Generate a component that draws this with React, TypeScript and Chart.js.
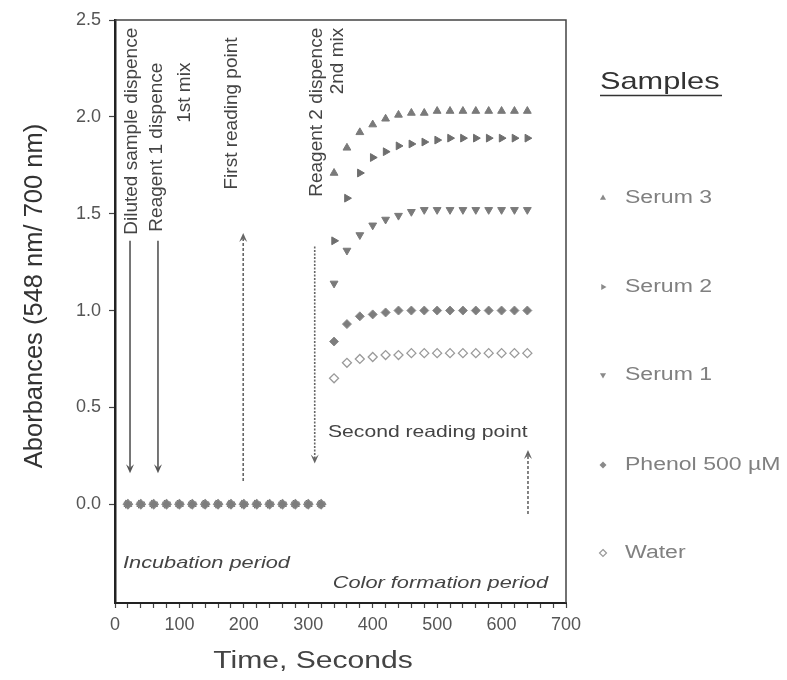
import React, { useEffect, useRef } from "react";
import { Chart, registerables } from "chart.js";

Chart.register(...registerables);

// ---------- data ----------
const times = [20, 40, 60, 80, 100, 120, 140, 160, 180, 200, 220, 240, 260, 280, 300, 320,
  340, 360, 380, 400, 420, 440, 460, 480, 500, 520, 540, 560, 580, 600, 620, 640];
const serum3 = [0, 0, 0, 0, 0, 0, 0, 0, 0, 0, 0, 0, 0, 0, 0, 0,
  1.71, 1.84, 1.92, 1.96, 1.99, 2.01, 2.02, 2.02, 2.03, 2.03, 2.03, 2.03, 2.03, 2.03, 2.03, 2.03];
const serum2 = [0, 0, 0, 0, 0, 0, 0, 0, 0, 0, 0, 0, 0, 0, 0, 0,
  1.36, 1.58, 1.71, 1.79, 1.82, 1.85, 1.86, 1.87, 1.88, 1.89, 1.89, 1.89, 1.89, 1.89, 1.89, 1.89];
const serum1 = [0, 0, 0, 0, 0, 0, 0, 0, 0, 0, 0, 0, 0, 0, 0, 0,
  1.14, 1.31, 1.39, 1.44, 1.47, 1.49, 1.51, 1.52, 1.52, 1.52, 1.52, 1.52, 1.52, 1.52, 1.52, 1.52];
const phenol = [0, 0, 0, 0, 0, 0, 0, 0, 0, 0, 0, 0, 0, 0, 0, 0,
  0.84, 0.93, 0.97, 0.98, 0.99, 1.0, 1.0, 1.0, 1.0, 1.0, 1.0, 1.0, 1.0, 1.0, 1.0, 1.0];
const water = [0, 0, 0, 0, 0, 0, 0, 0, 0, 0, 0, 0, 0, 0, 0, 0,
  0.65, 0.73, 0.75, 0.76, 0.77, 0.77, 0.78, 0.78, 0.78, 0.78, 0.78, 0.78, 0.78, 0.78, 0.78, 0.78];
const seriesNames = ["Serum 3", "Serum 2", "Serum 1", "Phenol 500 µM", "Water"];
const yTickValues = [0, 0.5, 1.0, 1.5, 2.0, 2.5];
const xLabelStep = 100;
const xMinorStep = 20;

const FONT = "'Liberation Sans', Arial, sans-serif";
const SX = 1.28; // horizontal stretch of the scanned lettering

function stretchedText(
  ctx: CanvasRenderingContext2D, str: string, x: number, y: number, font: string,
  align: CanvasTextAlign, baseline: CanvasTextBaseline, color: string, rot = 0, sx = SX
) {
  ctx.save();
  ctx.translate(x, y);
  ctx.scale(sx, 1);
  if (rot) ctx.rotate(rot);
  ctx.font = font;
  ctx.textAlign = align;
  ctx.textBaseline = baseline;
  ctx.fillStyle = color;
  ctx.fillText(str, 0, 0);
  ctx.restore();
}

function arrow(ctx: CanvasRenderingContext2D, x: number, yFrom: number, yTo: number, dash: number[], color: string) {
  const dir = yTo > yFrom ? 1 : -1;
  const head = 9;
  ctx.save();
  ctx.strokeStyle = color;
  ctx.fillStyle = color;
  ctx.lineWidth = 1.6;
  ctx.setLineDash(dash);
  ctx.beginPath();
  ctx.moveTo(x, yFrom);
  ctx.lineTo(x, yTo - dir * head * 0.6);
  ctx.stroke();
  ctx.setLineDash([]);
  ctx.beginPath();
  ctx.moveTo(x, yTo);
  ctx.lineTo(x - 4, yTo - dir * head);
  ctx.lineTo(x, yTo - dir * head * 0.6);
  ctx.lineTo(x + 4, yTo - dir * head);
  ctx.closePath();
  ctx.fill();
  ctx.restore();
}

function marker(ctx: CanvasRenderingContext2D, kind: string, x: number, y: number, r: number) {
  ctx.save();
  ctx.translate(x, y);
  ctx.beginPath();
  if (kind === "up" || kind === "right" || kind === "down") {
    const rot = kind === "up" ? 0 : kind === "right" ? Math.PI / 2 : Math.PI;
    ctx.rotate(rot);
    ctx.moveTo(0, -r);
    ctx.lineTo(r * 0.87, r * 0.5);
    ctx.lineTo(-r * 0.87, r * 0.5);
  } else {
    ctx.moveTo(0, -r);
    ctx.lineTo(r, 0);
    ctx.lineTo(0, r);
    ctx.lineTo(-r, 0);
  }
  ctx.closePath();
  if (kind === "open") {
    ctx.fillStyle = "#fff";
    ctx.fill();
    ctx.strokeStyle = "#999";
    ctx.lineWidth = 1.2;
    ctx.stroke();
  } else {
    ctx.fillStyle = "#8a8a8a";
    ctx.fill();
  }
  ctx.restore();
}

const overlay = {
  id: "overlay",
  afterDraw(chart: any) {
    const { ctx, chartArea, scales } = chart;
    const xs = scales.x;
    const ys = scales.y;
    const px = (v: number) => xs.getPixelForValue(v);
    const py = (v: number) => ys.getPixelForValue(v);

    // box top & right
    ctx.save();
    ctx.strokeStyle = "#444";
    ctx.lineWidth = 1.5;
    ctx.beginPath();
    ctx.moveTo(chartArea.left, chartArea.top);
    ctx.lineTo(chartArea.right, chartArea.top);
    ctx.lineTo(chartArea.right, chartArea.bottom);
    ctx.stroke();
    ctx.restore();

    const annColor = "#444";
    const rotFont = `19px ${FONT}`;
    const up = -Math.PI / 2;
    stretchedText(ctx, "Diluted sample dispence", px(26.4), py(2.46), rotFont, "right", "middle", annColor, up, 1);
    stretchedText(ctx, "Reagent 1 dispence", px(65), py(2.28), rotFont, "right", "middle", annColor, up, 1);
    stretchedText(ctx, "1st mix", px(109), py(2.28), rotFont, "right", "middle", annColor, up, 1);
    stretchedText(ctx, "First reading point", px(182), py(2.41), rotFont, "right", "middle", annColor, up, 1);
    stretchedText(ctx, "Reagent 2 dispence", px(313), py(2.46), rotFont, "right", "middle", annColor, up, 1);
    stretchedText(ctx, "2nd mix", px(345), py(2.46), rotFont, "right", "middle", annColor, up, 1);

    stretchedText(ctx, "Second reading point", px(330.6), py(0.372), `16.5px ${FONT}`, "left", "middle", annColor);
    stretchedText(ctx, "Incubation period", px(12.4), py(-0.305), `italic 17px ${FONT}`, "left", "middle", annColor);
    stretchedText(ctx, "Color formation period", px(338), py(-0.408), `italic 17px ${FONT}`, "left", "middle", annColor);

    // arrows
    arrow(ctx, px(23.3), py(1.36), py(0.16), [], "#555");
    arrow(ctx, px(66.7), py(1.36), py(0.16), [], "#555");
    arrow(ctx, px(199), py(0.12), py(1.40), [3, 2], "#666");
    arrow(ctx, px(310), py(1.33), py(0.21), [2, 1.5], "#666");
    arrow(ctx, px(641), py(-0.05), py(0.28), [3, 2], "#666");

    // axis titles
    stretchedText(ctx, "Aborbances (548 nm/ 700 nm)", 35, 296, `25.5px ${FONT}`, "center", "middle", "#333", up, 1);
    stretchedText(ctx, "Time, Seconds", 313, 662, `23.5px ${FONT}`, "center", "middle", "#444");

    // legend
    stretchedText(ctx, "Samples", 600, 82, `24px ${FONT}`, "left", "middle", "#333");
    ctx.save();
    ctx.strokeStyle = "#333";
    ctx.lineWidth = 1.5;
    ctx.beginPath();
    ctx.moveTo(600, 95.5);
    ctx.lineTo(722, 95.5);
    ctx.stroke();
    ctx.restore();
    const kinds = ["up", "right", "down", "filled", "open"];
    const ly = [198, 287, 375, 465, 553];
    seriesNames.forEach((name, i) => {
      marker(ctx, kinds[i], 603, ly[i], 3.5);
      stretchedText(ctx, name, 625, ly[i], `18px ${FONT}`, "left", "middle", "#808080");
    });
  },
};

function pts(vals: number[]) {
  return times.map((t, i) => ({ x: t, y: vals[i] }));
}

export default function App() {
  const ref = useRef<HTMLCanvasElement | null>(null);
  useEffect(() => {
    if (!ref.current) return;
    const common = { showLine: false, pointRadius: 4.5, pointBorderWidth: 1 };
    const chart = new Chart(ref.current, {
      type: "scatter",
      data: {
        datasets: [
          { label: seriesNames[0], data: pts(serum3), pointStyle: "triangle", pointRotation: 0,
            backgroundColor: "#7a7a7a", borderColor: "#7a7a7a", ...common },
          { label: seriesNames[1], data: pts(serum2), pointStyle: "triangle", pointRotation: 90,
            backgroundColor: "#6e6e6e", borderColor: "#6e6e6e", ...common },
          { label: seriesNames[2], data: pts(serum1), pointStyle: "triangle", pointRotation: 180,
            backgroundColor: "#7a7a7a", borderColor: "#7a7a7a", ...common },
          { label: seriesNames[3], data: pts(phenol), pointStyle: "rectRot", order: -1,
            backgroundColor: "#7d7d7d", borderColor: "#8c8c8c", ...common },
          { label: seriesNames[4], data: pts(water), pointStyle: "rectRot",
            backgroundColor: "#ffffff", borderColor: "#9a9a9a", ...common, pointBorderWidth: 1.3 },
        ],
      },
      options: {
        responsive: false,
        animation: false,
        layout: { padding: { left: 0, top: 20, right: 221, bottom: 0 } },
        plugins: { legend: { display: false }, tooltip: { enabled: false } },
        scales: {
          x: {
            type: "linear",
            min: 0,
            max: 700,
            afterFit: (s: any) => { s.height = 77; },
            grid: { drawOnChartArea: false, drawTicks: true, tickLength: 5, tickColor: "#444", tickWidth: 1.2 },
            border: { display: true, color: "#222", width: 2 },
            ticks: {
              stepSize: xMinorStep,
              autoSkip: false,
              maxRotation: 0,
              padding: 6,
              color: "#555",
              font: { family: FONT, size: 18 },
              callback: (v: any) => (Number(v) % xLabelStep === 0 ? String(v) : ""),
            },
          },
          y: {
            type: "linear",
            min: -0.51,
            max: 2.5,
            afterFit: (s: any) => { s.width = 115; },
            afterBuildTicks: (s: any) => { s.ticks = yTickValues.map((v) => ({ value: v })); },
            grid: { drawOnChartArea: false, drawTicks: true, tickLength: 6, tickColor: "#444", tickWidth: 1.2 },
            border: { display: true, color: "#222", width: 2.5 },
            ticks: {
              padding: 8,
              color: "#555",
              font: { family: FONT, size: 18 },
              callback: (v: any) => Number(v).toFixed(1),
            },
          },
        },
      },
      plugins: [overlay],
    } as any);
    return () => chart.destroy();
  }, []);
  return (
    <div style={{ position: "absolute", left: 0, top: 0, width: 787, height: 680, background: "#fff" }}>
      <canvas ref={ref} width={787} height={680} style={{ width: 787, height: 680 }} />
    </div>
  );
}
